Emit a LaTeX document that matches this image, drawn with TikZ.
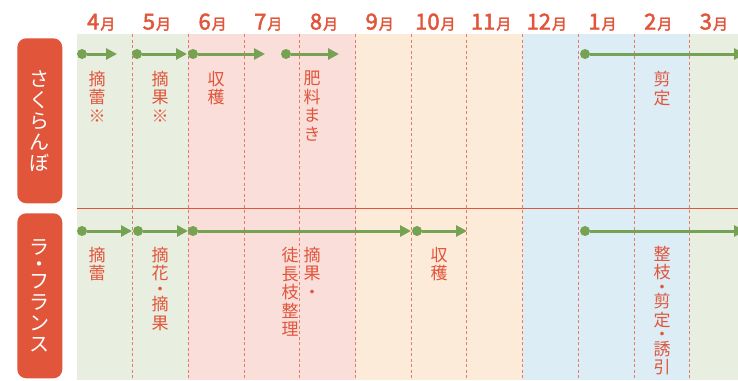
\documentclass[tikz,border=0pt]{standalone}
\usepackage{fontspec}
\usetikzlibrary{arrows.meta}
\newfontfamily\jp{Noto Sans CJK JP}
\newfontfamily\jpnum{Noto Sans CJK JP}[FakeBold=2.2]
\definecolor{tomato}{HTML}{E1553B}
\definecolor{leaf}{HTML}{76A253}
\definecolor{spring}{HTML}{E9EFE0}
\definecolor{summer}{HTML}{FADEDA}
\definecolor{autumn}{HTML}{FDEBD9}
\definecolor{winter}{HTML}{DCEDF5}
\definecolor{divred}{HTML}{E77A68}
\newcommand{\tsuki}{\kern1pt{\fontsize{15}{15}\selectfont 月}}
\begin{document}
\begin{tikzpicture}[x=1pt,y=-1pt,
  dot/.style={circle,fill=leaf,inner sep=0pt,minimum size=10pt},
  shoot/.style={line width=3pt,draw=leaf,-{Triangle[length=11pt,width=11pt]}},
  mon/.style={text=tomato,inner sep=0pt,anchor=base,font=\jpnum\fontsize{22}{22}\selectfont},
  work/.style={anchor=north,text=tomato,inner sep=0pt,align=center,font=\jp\fontsize{17}{18.5}\selectfont},
  tag/.style={rounded corners=9pt,fill=tomato,text=white,inner sep=0pt,minimum width=45pt,minimum height=165pt,align=center,font=\jp\fontsize{20}{21}\selectfont},
  divline/.style={divred,line width=0.9pt,dash pattern=on 3pt off 2.5pt}]
\useasboundingbox (0,0) rectangle (738,380);
\clip (0,0) rectangle (738,380);

% seasons
\fill[spring] (77,34) rectangle (188.4,380);
\fill[summer] (188.4,34) rectangle (355.5,380);
\fill[autumn] (355.5,34) rectangle (522.6,380);
\fill[winter] (522.6,34) rectangle (689.7,380);
\fill[spring] (689.7,34) rectangle (738,380);

\draw[divline] (132.7,34) -- (132.7,380);
\draw[divline] (188.4,34) -- (188.4,380);
\draw[divline] (244.1,34) -- (244.1,380);
\draw[divline] (299.8,34) -- (299.8,380);
\draw[divline] (355.5,34) -- (355.5,380);
\draw[divline] (411.2,34) -- (411.2,380);
\draw[divline] (466.9,34) -- (466.9,380);
\draw[divline] (522.6,34) -- (522.6,380);
\draw[divline] (578.3,34) -- (578.3,380);
\draw[divline] (634.0,34) -- (634.0,380);
\draw[divline] (689.7,34) -- (689.7,380);

\draw[tomato,line width=1pt] (77,208.3) -- (738,208.3);

% months
\node[mon] (m4) at (101.2,29.5) {4\tsuki};
\node[mon] (m5) at (156.9,29.5) {5\tsuki};
\node[mon] (m6) at (212.6,29.5) {6\tsuki};
\node[mon] (m7) at (268.3,29.5) {7\tsuki};
\node[mon] (m8) at (324.0,29.5) {8\tsuki};
\node[mon] (m9) at (379.7,29.5) {9\tsuki};
\node[mon] (m10) at (435.4,29.5) {10\tsuki};
\node[mon] (m11) at (491.1,29.5) {11\tsuki};
\node[mon] (m12) at (546.8,29.5) {12\tsuki};
\node[mon] (m1) at (602.5,29.5) {1\tsuki};
\node[mon] (m2) at (658.2,29.5) {2\tsuki};
\node[mon] (m3) at (713.9,29.5) {3\tsuki};

% fruits
\node[tag] (cherry) at (39.8,120.8) {さ\\く\\ら\\ん\\ぼ};
\node[tag] (france) at (39.8,295.8) {ラ\\[-4pt]・\\[-4pt]フ\\ラ\\ン\\ス};

% cherry jobs
\node[work] (c1t) at (97,71) {摘\\蕾\\※};
\node[work] (c2t) at (160,71) {摘\\果\\※};
\node[work] (c3t) at (216,71) {収\\穫};
\node[work] (c4t) at (312,71) {肥\\料\\ま\\き};
\node[work] (c5t) at (662,71) {剪\\定};

% la france jobs
\node[work] (f1t) at (97,247) {摘\\蕾};
\node[work] (f2t) at (160,247) {摘\\花\\[-3pt]・\\[-3pt]摘\\果};
\node[work] (f3t) at (290,247) {徒\\長\\枝\\整\\理};
\node[work] (f4t) at (312,247) {摘\\果\\・};
\node[work] (f5t) at (439,247) {収\\穫};
\node[work] (f6t) at (662,246) {整\\枝\\[-4pt]・\\[-4pt]剪\\定\\[-4pt]・\\[-4pt]誘\\引};

% cherry arrows
\node[dot] (c1) at (82,54) {};
\node[dot] (c2) at (137,54) {};
\node[dot] (c3) at (193,54) {};
\node[dot] (c4) at (286,54) {};
\node[dot] (c5) at (585,54) {};
\coordinate (c1e) at (117,54);
\coordinate (c2e) at (187,54);
\coordinate (c3e) at (265,54);
\coordinate (c4e) at (339,54);
\coordinate (c5e) at (745,54);
\draw[shoot] (c1) -- (c1e);
\draw[shoot] (c2) -- (c2e);
\draw[shoot] (c3) -- (c3e);
\draw[shoot] (c4) -- (c4e);
\draw[shoot] (c5) -- (c5e);

% la france arrows
\node[dot] (f1) at (82,231) {};
\node[dot] (f2) at (138,231) {};
\node[dot] (f3) at (193,231) {};
\node[dot] (f4) at (417,231) {};
\node[dot] (f5) at (585,231) {};
\coordinate (f1e) at (132,231);
\coordinate (f2e) at (188,231);
\coordinate (f3e) at (411,231);
\coordinate (f4e) at (467,231);
\coordinate (f5e) at (745,231);
\draw[shoot] (f1) -- (f1e);
\draw[shoot] (f2) -- (f2e);
\draw[shoot] (f3) -- (f3e);
\draw[shoot] (f4) -- (f4e);
\draw[shoot] (f5) -- (f5e);

\end{tikzpicture}
\end{document}
